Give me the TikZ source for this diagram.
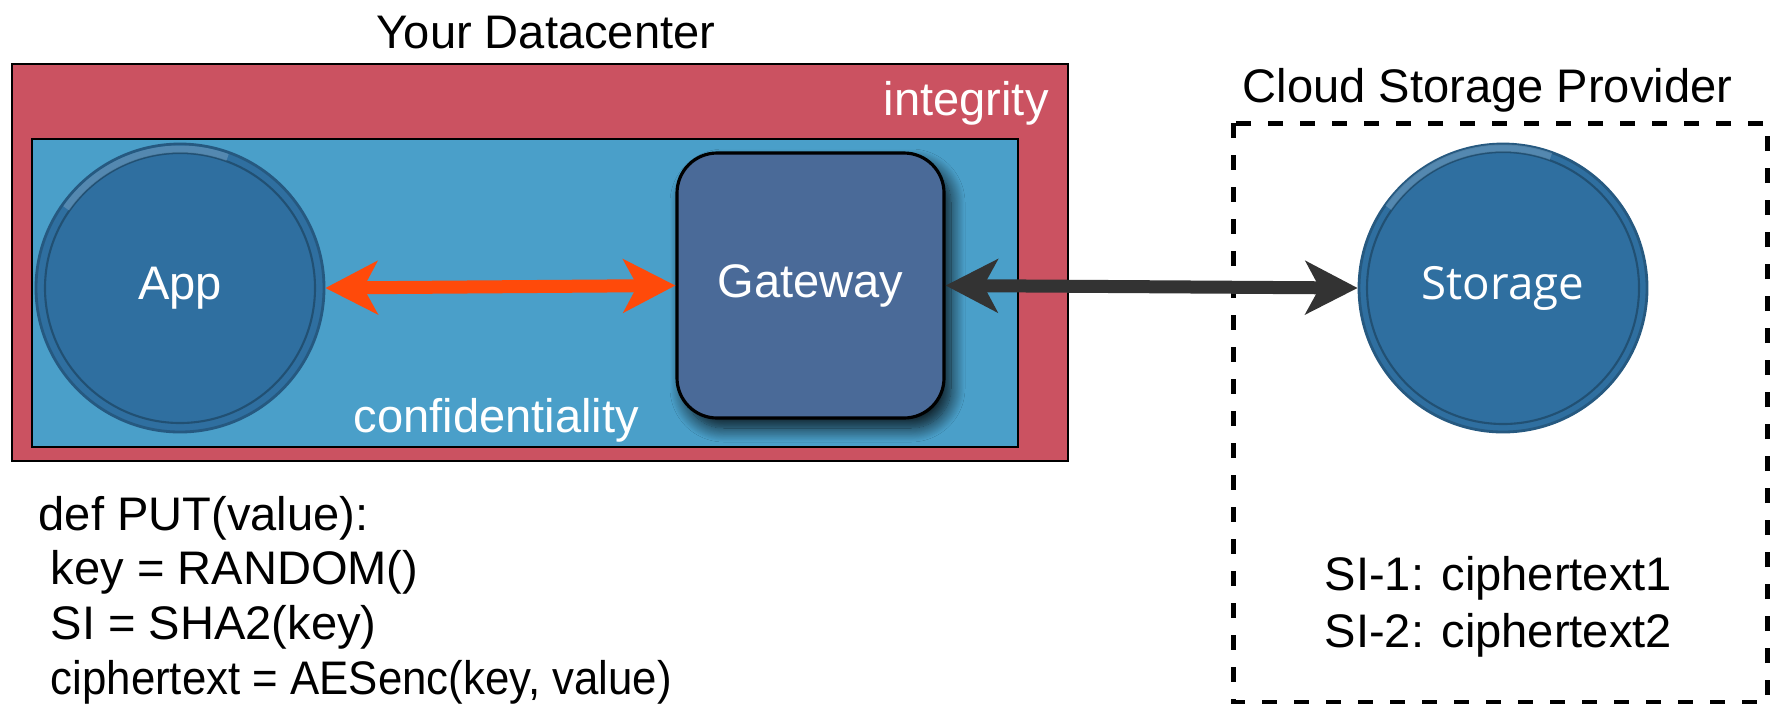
\documentclass[tikz,border=0pt]{standalone}
\usepackage{fontspec}
\setmainfont{Liberation Sans}
\newfontfamily\storagefont{Open Sans}
\usetikzlibrary{arrows.meta, shadows.blur}

\definecolor{intred}{HTML}{CB5261}
\definecolor{confblue}{HTML}{4A9FC9}
\definecolor{diskblue}{HTML}{2F6FA0}
\definecolor{gateblue}{HTML}{4A6A98}
\definecolor{linkgray}{HTML}{333333}
\definecolor{linkorange}{HTML}{FF4A0A}

\tikzset{
  txt/.style={inner sep=0pt, font=\fontsize{13.4}{16}\selectfont},
  disk/.style={circle, fill=diskblue, draw=diskblue!80!black, line width=0.8pt,
    minimum size=2.88cm, inner sep=0pt, text=white},
  gatebox/.style={rectangle, rounded corners=0.4cm, fill=gateblue, draw=black,
    line width=0.9pt, minimum width=2.67cm, minimum height=2.65cm, text=white,
    blur shadow={shadow xshift=0.07cm, shadow yshift=-0.1cm, shadow blur radius=0.14cm,
      shadow blur steps=16, shadow opacity=85}},
  link/.style={line width=0.13cm,
    {Stealth[length=0.52cm,width=0.53cm,inset=0.14cm]}-{Stealth[length=0.52cm,width=0.53cm,inset=0.14cm]}},
}

\begin{document}
\begin{tikzpicture}
    \useasboundingbox (0,0) rectangle (17.85,7.03);
    % datacenter: integrity and confidentiality zones
    \draw[fill=intred, line width=0.6pt] (0.12,6.39) rectangle (10.68,2.42);
    \draw[fill=confblue, line width=0.8pt] (0.32,5.64) rectangle (10.18,2.56);
    \node[txt, anchor=base] (dc) at (5.46,6.55) {Your Datacenter};
    \node[txt, anchor=base west, text=white] (integ) at (8.83,5.88) {integrity};
    \node[txt, anchor=base west, text=white] (conf) at (3.53,2.71) {confidentiality};

    \node[disk, txt] (app) at (1.80,4.15) {App};
    \draw[diskblue!60!black, line width=0.6pt, opacity=0.7] (app.center) circle (1.35);
    \draw[diskblue!70!white, line width=2pt, opacity=0.6] (app.center) ++(70:1.39) arc (70:145:1.39);
    \node[gatebox, txt] (gw) at (8.105,4.175) {Gateway};

    % cloud provider
    \draw[dashed, dash pattern=on 0.15cm off 0.17cm, line width=0.05cm] (12.33,5.80) rectangle (17.67,0.01);
    \node[txt, anchor=base west] (csp) at (12.42,6.01) {Cloud Storage Provider};
    \node[disk, font=\storagefont\fontsize{13}{16}\selectfont] (store) at (15.03,4.15) {Storage};
    \draw[diskblue!60!black, line width=0.6pt, opacity=0.7] (store.center) circle (1.36);
    \draw[diskblue!70!white, line width=2pt, opacity=0.6] (store.center) ++(70:1.40) arc (70:145:1.40);
    \node[txt, anchor=base west] (si1) at (13.24,1.13) {SI-1: ciphertext1};
    \node[txt, anchor=base west] (si2) at (13.24,0.56) {SI-2: ciphertext2};

    % links
    \draw[link, draw=linkorange, color=linkorange] (app.east) -- (gw.west);
    \draw[link, draw=linkgray, color=linkgray] (gw.east) -- (store.west);

    % put procedure
    \node[txt, anchor=base west] (put) at (0.38,1.73) {def PUT(value):};
    \node[txt, anchor=base west] (key) at (0.50,1.19) {key = RANDOM()};
    \node[txt, anchor=base west] (si) at (0.50,0.64) {SI = SHA2(key)};
    \node[txt, anchor=base west] (enc) at (0.50,0.09) {\scalebox{0.93}[1]{ciphertext = AESenc(key, value)}};
\end{tikzpicture}
\end{document}
